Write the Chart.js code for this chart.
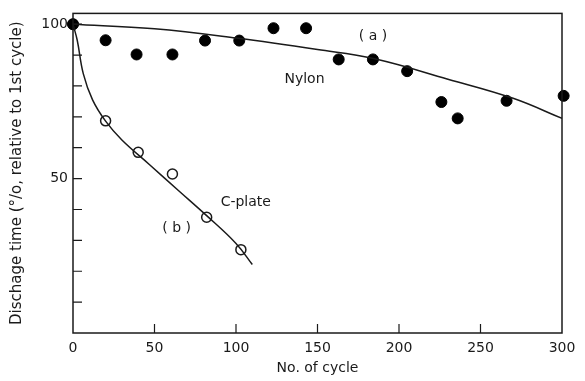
<!DOCTYPE html>
<html>
<head>
<meta charset="utf-8">
<script src="https://cdn.jsdelivr.net/npm/chart.js@4/dist/chart.umd.min.js"></script>
<style>
  html, body { margin: 0; padding: 0; background: #fff; }
  #wrap { width: 585px; height: 381px; }
</style>
</head>
<body>
<div id="wrap"><canvas id="cycleChart"></canvas></div>
<script>
// measured points
const nylonX = [0, 20, 39, 61, 81, 102, 123, 143, 163, 184, 205, 226, 236, 266, 301];
const nylonY = [100, 94.8, 90.2, 90.2, 94.7, 94.7, 98.7, 98.7, 88.6, 88.6, 84.8, 74.8, 69.5, 75.2, 76.8];
const cplateX = [0, 20, 40, 61, 82, 103];
const cplateY = [100, 68.7, 58.5, 51.5, 37.5, 27];

// fitted curves
const nylonFitX = [0, 50, 100, 150, 185, 230, 270, 300];
const nylonFitY = [100, 98.5, 95.5, 91.8, 88.8, 82.2, 76, 69.5];
const cplateFitX = [0, 2.6, 6.3, 12, 20, 30, 47, 65, 82, 100, 110];
const cplateFitY = [100, 94.8, 84, 75.5, 68.6, 62.5, 54.5, 46, 38, 29, 22.2];

const xTicks = [0, 50, 100, 150, 200, 250, 300];
const yTicks = [0, 10, 20, 30, 40, 50, 60, 70, 80, 90, 100];
const yLabels = [50, 100];

const notes = [
  { text: '( a )', x: 184, y: 96.1 },
  { text: 'Nylon', x: 142, y: 82 },
  { text: 'C-plate', x: 106, y: 42.4 },
  { text: '( b )', x: 63.6, y: 33.8 },
];

const ink = '#1a1a1a';
const font = 'DejaVu Sans';

function pts(xs, ys) {
  return xs.map((x, i) => ({ x: x, y: ys[i] }));
}

const framePlugin = {
  id: 'frame',
  afterDraw(chart) {
    const { ctx, chartArea: a, scales } = chart;
    ctx.save();
    ctx.strokeStyle = ink;
    ctx.lineWidth = 1.5;
    ctx.strokeRect(a.left, a.top, a.right - a.left, a.bottom - a.top);
    ctx.lineWidth = 1.2;
    ctx.beginPath();
    yTicks.forEach(v => {
      if (v === 0) return;
      const py = scales.y.getPixelForValue(v);
      ctx.moveTo(a.left, py);
      ctx.lineTo(a.left + 9, py);
    });
    xTicks.forEach(v => {
      if (v === 0 || v === 300) return;
      const px = scales.x.getPixelForValue(v);
      ctx.moveTo(px, a.bottom);
      ctx.lineTo(px, a.bottom - 9);
    });
    ctx.stroke();
    ctx.fillStyle = ink;
    ctx.font = '14px "' + font + '"';
    ctx.textAlign = 'center';
    ctx.textBaseline = 'middle';
    notes.forEach(n => {
      ctx.fillText(n.text, scales.x.getPixelForValue(n.x), scales.y.getPixelForValue(n.y));
    });
    ctx.restore();
  },
};

new Chart(document.getElementById('cycleChart'), {
  type: 'scatter',
  data: {
    datasets: [
      {
        label: 'Nylon fit',
        data: pts(nylonFitX, nylonFitY),
        showLine: true,
        borderColor: ink,
        borderWidth: 1.5,
        pointRadius: 0,
        tension: 0.4,
      },
      {
        label: 'C-plate fit',
        data: pts(cplateFitX, cplateFitY),
        showLine: true,
        borderColor: ink,
        borderWidth: 1.5,
        pointRadius: 0,
        tension: 0.4,
      },
      {
        label: 'Nylon',
        data: pts(nylonX, nylonY),
        backgroundColor: '#000',
        borderColor: '#000',
        pointRadius: 5.5,
        clip: false,
      },
      {
        label: 'C-plate',
        data: pts(cplateX, cplateY),
        backgroundColor: '#fff',
        borderColor: ink,
        borderWidth: 1.5,
        pointRadius: 5,
        clip: false,
      },
    ],
  },
  options: {
    responsive: true,
    maintainAspectRatio: false,
    animation: false,
    layout: { padding: { top: 10, right: 23, left: 0, bottom: 0 } },
    plugins: { legend: { display: false }, tooltip: { enabled: false } },
    scales: {
      x: {
        type: 'linear',
        min: 0,
        max: 300,
        afterBuildTicks: s => { s.ticks = xTicks.map(v => ({ value: v })); },
        afterFit: s => { s.height = 48; },
        grid: { display: false, drawTicks: false },
        border: { display: false },
        ticks: { color: ink, padding: 7, font: { family: font, size: 14 } },
        title: { display: true, text: 'No. of cycle', color: ink, padding: { top: 6 }, font: { family: font, size: 14 } },
      },
      y: {
        type: 'linear',
        min: 0,
        max: 103.5,
        afterBuildTicks: s => { s.ticks = yTicks.map(v => ({ value: v })); },
        afterFit: s => { s.width = 73; },
        grid: { display: false, drawTicks: false },
        border: { display: false },
        ticks: {
          color: ink,
          padding: 5,
          font: { family: font, size: 14 },
          callback: v => (yLabels.includes(v) ? String(v) : ''),
        },
        title: { display: true, text: 'Dischage time (°/o, relative to 1st cycle)', color: ink, padding: { top: 8, bottom: 2 }, font: { family: font, size: 15 } },
      },
    },
  },
  plugins: [framePlugin],
});
</script>
</body>
</html>
